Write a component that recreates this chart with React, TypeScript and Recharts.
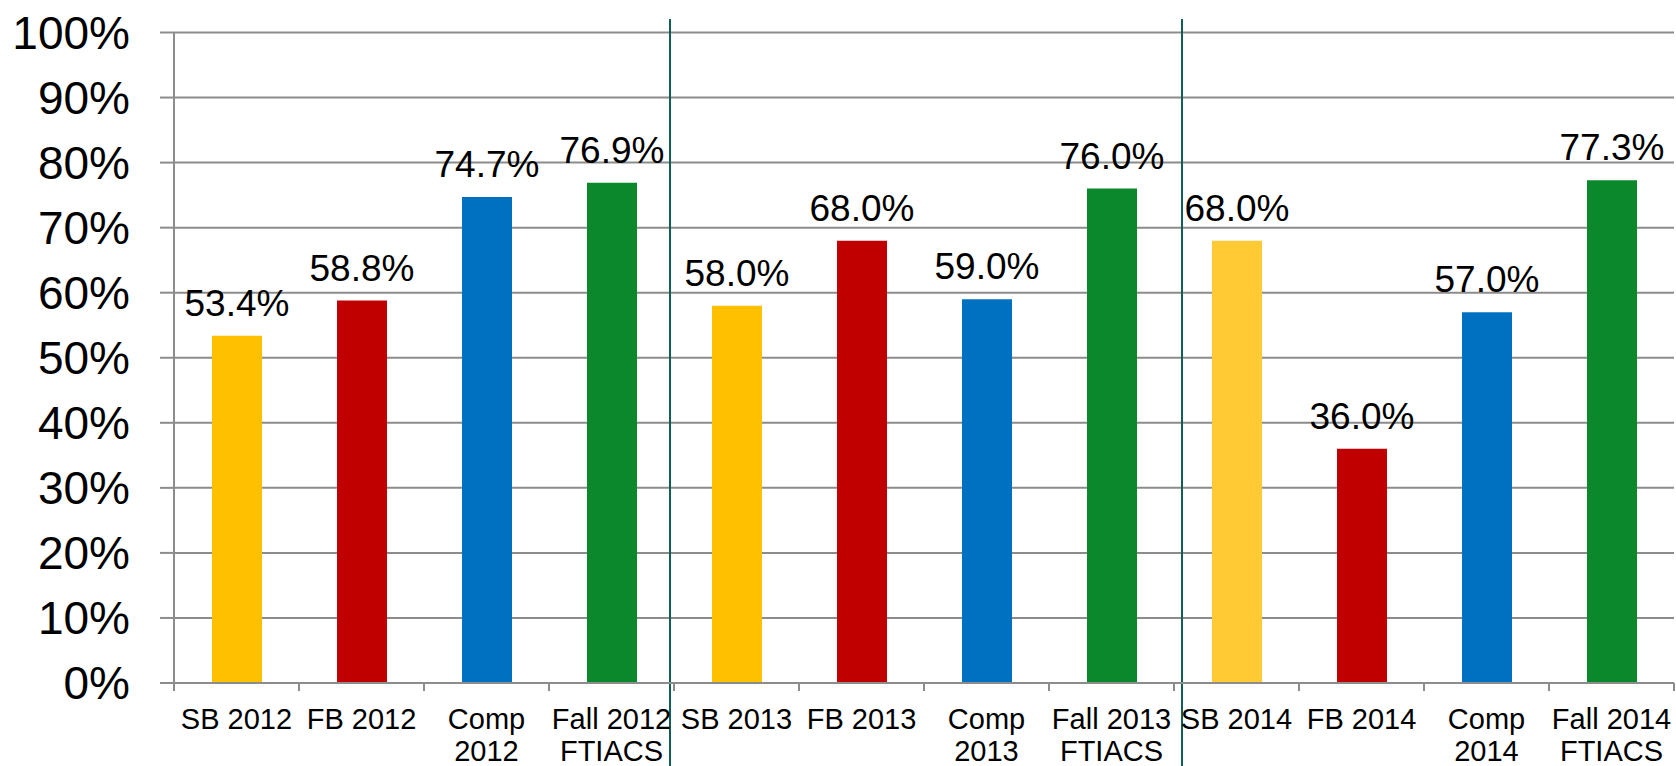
import {
  Bar,
  BarChart,
  CartesianGrid,
  Cell,
  LabelList,
  ReferenceLine,
  XAxis,
  YAxis,
} from 'recharts';

const categories = [
  'SB 2012',
  'FB 2012',
  'Comp\n2012',
  'Fall 2012\nFTIACS',
  'SB 2013',
  'FB 2013',
  'Comp\n2013',
  'Fall 2013\nFTIACS',
  'SB 2014',
  'FB 2014',
  'Comp\n2014',
  'Fall 2014\nFTIACS',
];

const rates = [53.4, 58.8, 74.7, 76.9, 58.0, 68.0, 59.0, 76.0, 68.0, 36.0, 57.0, 77.3];

const barColors = [
  '#FFC000', '#C00000', '#0070C0', '#0B872C',
  '#FFC000', '#C00000', '#0070C0', '#0B872C',
  '#FFCA33', '#C00000', '#0070C0', '#0B872C',
];

const yTicks = [0, 10, 20, 30, 40, 50, 60, 70, 80, 90, 100];

// group separators sit after the last bar of each year
const groupEnds = ['Fall 2012\nFTIACS', 'Fall 2013\nFTIACS'];
const groupShifts = [-4, 8];

const WIDTH = 1676;
const HEIGHT = 766;
const Y_AXIS_W = 174;
const RIGHT = 2;
const BAND = (WIDTH - Y_AXIS_W - RIGHT) / categories.length;
const GRID = '#8C8C8C';
const DIVIDER = '#135E52';

const data = categories.map((name, i) => ({ name, rate: rates[i] }));

const XTick = ({ x, y, payload, index }: any) => {
  const lines = String(payload.value).split('\n');
  const left = x - BAND / 2;
  return (
    <g>
      <line x1={left} x2={left} y1={y - 8} y2={y} stroke={GRID} strokeWidth={2} />
      {index === categories.length - 1 && (
        <line x1={x + BAND / 2} x2={x + BAND / 2} y1={y - 8} y2={y} stroke={GRID} strokeWidth={2} />
      )}
      <text x={x} y={y} textAnchor='middle' fontSize={29} fill='#000'>
        {lines.map((line, i) => (
          <tspan key={i} x={x} dy={i === 0 ? 37.5 : 32}>
            {line}
          </tspan>
        ))}
      </text>
    </g>
  );
};

const dividerShape = (shift: number) => (props: any) => (
  <line
    x1={props.x1 + shift}
    x2={props.x2 + shift}
    y1={19}
    y2={HEIGHT}
    stroke={DIVIDER}
    strokeWidth={2}
  />
);

export default function App() {
  return (
    <div
      style={{
        position: 'absolute',
        left: 0,
        top: 0,
        fontFamily: '"Liberation Sans", Arial, sans-serif',
        background: '#fff',
      }}
    >
      <BarChart
        width={WIDTH}
        height={HEIGHT}
        data={data}
        margin={{ top: 32.5, right: RIGHT, bottom: 0, left: 0 }}
      >
        <CartesianGrid vertical={false} stroke={GRID} strokeWidth={2} />
        <XAxis
          dataKey='name'
          interval={0}
          height={83}
          tickSize={8}
          tickMargin={0}
          tickLine={false}
          axisLine={{ stroke: GRID, strokeWidth: 2 }}
          tick={<XTick />}
        />
        <YAxis
          domain={[0, 100]}
          ticks={yTicks}
          width={Y_AXIS_W}
          tickSize={14}
          tickMargin={30}
          tickFormatter={(v) => `${v}%`}
          tick={{ fill: '#000', fontSize: 46 }}
          tickLine={{ stroke: GRID, strokeWidth: 2 }}
          axisLine={{ stroke: GRID, strokeWidth: 2 }}
        />
        <Bar dataKey='rate' barSize={50} isAnimationActive={false}>
          {data.map((d, i) => (
            <Cell key={d.name} fill={barColors[i]} />
          ))}
          <LabelList
            dataKey='rate'
            position='top'
            offset={20}
            fontSize={37}
            fill='#000'
            formatter={(v: any) => `${Number(v).toFixed(1)}%`}
          />
        </Bar>
        {groupEnds.map((cat, i) => (
          <ReferenceLine
            key={cat}
            x={cat}
            position='end'
            ifOverflow='visible'
            shape={dividerShape(groupShifts[i])}
          />
        ))}
      </BarChart>
    </div>
  );
}
